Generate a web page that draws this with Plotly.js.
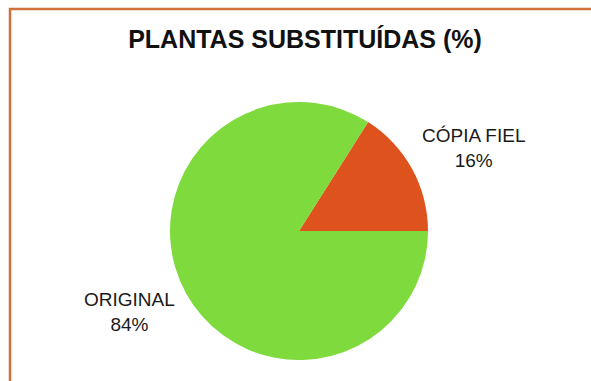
<!DOCTYPE html>
<html>
<head>
<meta charset="utf-8">
<script src="https://cdn.plot.ly/plotly-3.0.1.min.js"></script>
<style>html,body{margin:0;padding:0;background:#fff;}#chart{width:591px;height:381px;}</style>
</head>
<body>
<div id="chart"></div>
<script>
const chartTitle = "PLANTAS SUBSTITUÍDAS (%)";
const labels = ["CÓPIA FIEL", "ORIGINAL"];
const values = [16, 84];
const colors = ["#de531d", "#7fda3e"];

const W = 591, H = 381;
const cx = 299, cy = 231, r = 129;

const labelPos = [[473, 148], [129, 312]];

const annotations = labels.map((l, i) => ({
  text: l + "<br>" + values[i] + "%",
  x: labelPos[i][0] / W, y: 1 - labelPos[i][1] / H,
  xref: "paper", yref: "paper", showarrow: false,
  xanchor: "center", yanchor: "middle", align: "center",
  font: {family: "Liberation Sans, Arial, sans-serif", size: 19, color: "#1a1a1a"}
}));

const data = [{
  type: "pie",
  labels: labels,
  values: values,
  sort: false,
  direction: "counterclockwise",
  rotation: 32.4,
  marker: {colors: colors, line: {width: 0}},
  textinfo: "none",
  hoverinfo: "label+percent",
  showlegend: false,
  domain: {x: [(cx - r) / W, (cx + r) / W], y: [(H - cy - r) / H, (H - cy + r) / H]}
}];

const layout = {
  width: W, height: H,
  margin: {l: 0, r: 0, t: 0, b: 0},
  paper_bgcolor: "#ffffff",
  title: {
    text: "<b>" + chartTitle + "</b>",
    x: 305 / W, y: 1 - 39 / H, xanchor: "center", yanchor: "middle",
    xref: "paper", yref: "container",
    font: {family: "Liberation Sans, Arial, sans-serif", size: 25, color: "#111"}
  },
  annotations: annotations,
  shapes: [{
    type: "path", xref: "paper", yref: "paper",
    path: "M " + (10 / W) + " 0 L " + (10 / W) + " " + (1 - 9 / H) + " L 1 " + (1 - 9 / H),
    line: {color: "#d0703c", width: 2.5}
  }]
};

Plotly.newPlot("chart", data, layout, {displayModeBar: false, staticPlot: true});
</script>
</body>
</html>
